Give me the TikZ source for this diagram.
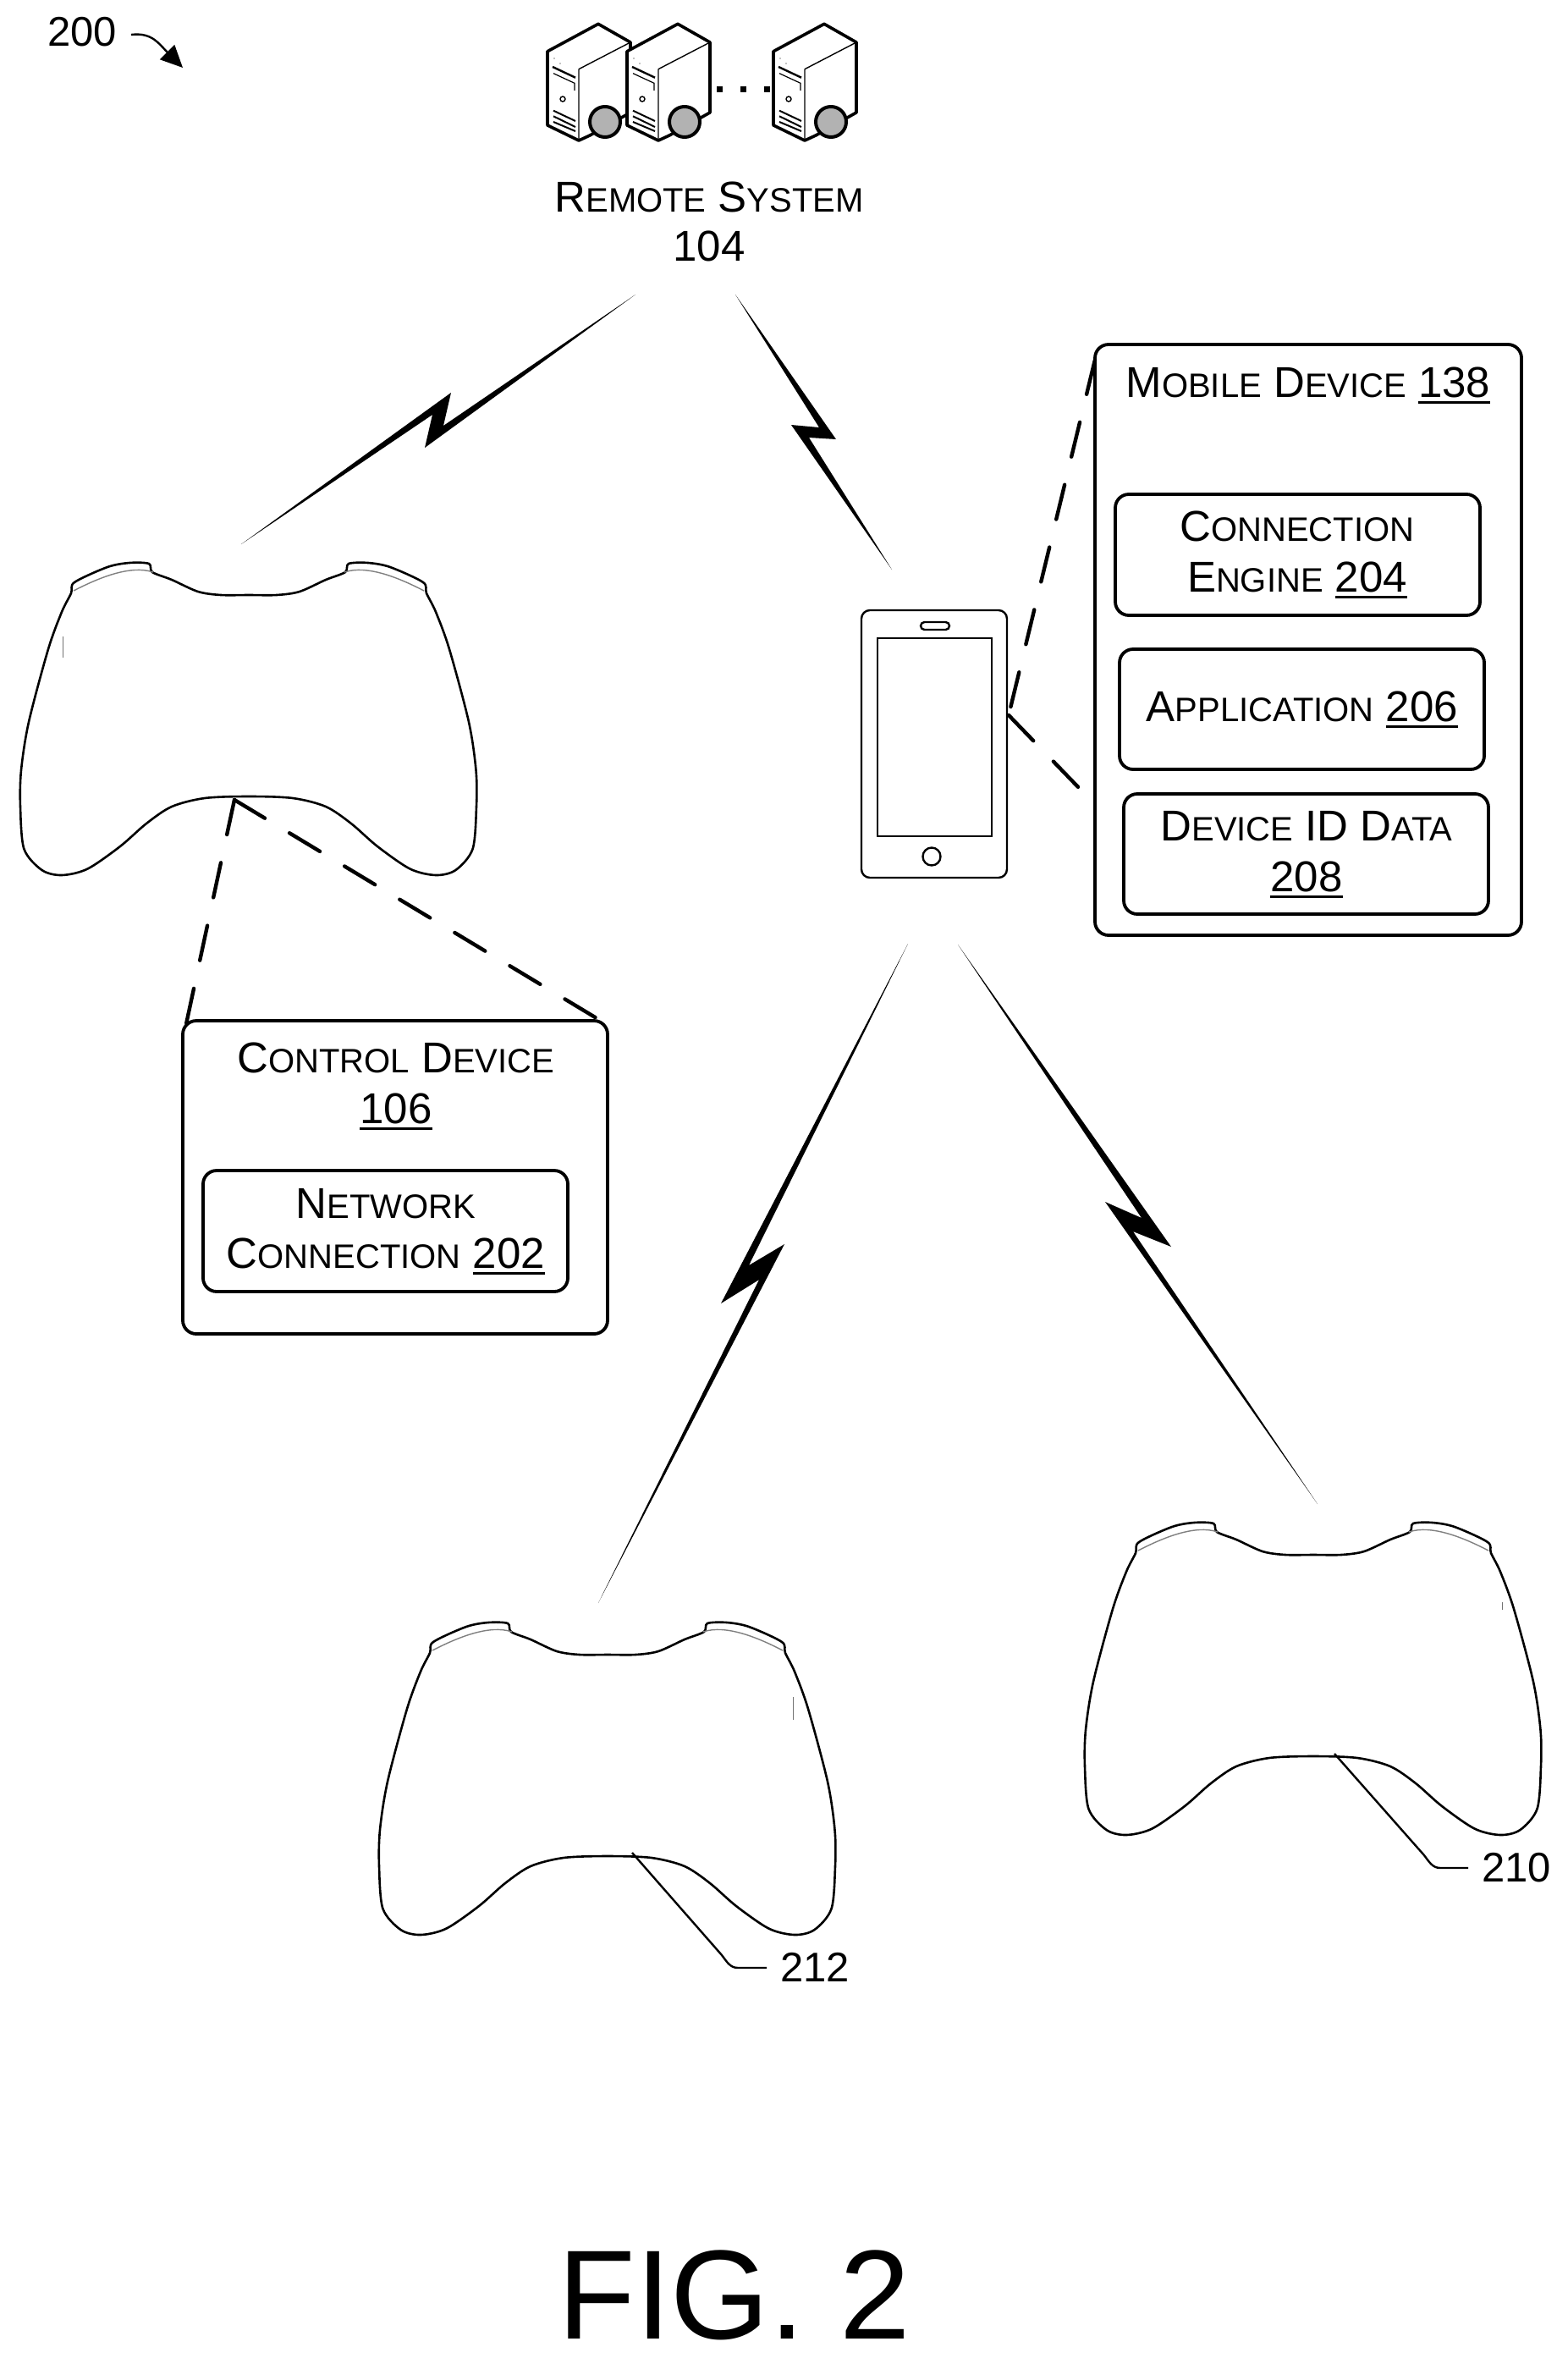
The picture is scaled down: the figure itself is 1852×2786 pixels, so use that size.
\documentclass[tikz,border=0pt]{standalone}
\usepackage{fontspec}
\setmainfont{Liberation Sans}
\usetikzlibrary{arrows.meta}

% first letter large, the rest in small capitals
\newcommand{\smc}[2]{#1{\fontsize{40}{46}\selectfont #2}}
\newcommand{\num}[1]{\setbox0\hbox{#1}\rlap{\rule[-7.5pt]{\wd0}{3pt}}\box0}

\tikzset{
    every node/.style={outer sep=0pt},
    box/.style={draw,line width=3.8pt,rounded corners=16pt,anchor=north west,inner sep=0pt},
    boxtext/.style={font=\fontsize{51}{60}\selectfont,align=center,inner sep=0pt,anchor=base},
    reftext/.style={font=\fontsize{49}{58}\selectfont,inner sep=0pt},
    dashline/.style={line width=4.4pt,line cap=round,dash pattern=on 42pt off 34pt},
    bolt/.style={fill=black},
    leader/.style={line width=2.4pt},
    phoneline/.style={draw,line width=2.4pt},
    pics/controller/.style={code={
        \draw[line width=2.6pt,fill=white] plot[smooth cycle,tension=0.5] coordinates {
            (0,0) (33,0) (60,-4) (91,-18) (114,-27) (118,-37) (141,-38) (167,-33) (206,-15) (210,-2)
            (221,20) (237,64) (260,150) (268.5,207) (269,250) (264.6,300) (244.5,325) (221,331)
            (190.6,323.6) (152,297) (121,270) (91,250) (52,240) (0,238)
            (-52,240) (-91,250) (-121,270) (-152,297) (-190.6,323.6) (-221,331) (-244.5,325) (-265.6,300)
            (-270,250) (-269,207) (-260,150) (-237,64) (-221,20) (-210,-2)
            (-206,-15) (-167,-33) (-141,-38) (-118,-37) (-114,-27) (-91,-18) (-60,-4) (-33,0)};
        \draw[line width=1.4pt,black!50] (-207,-5) .. controls (-178,-20) and (-140,-36) .. (-113,-27);
        \draw[line width=1.4pt,black!50] (207,-5) .. controls (178,-20) and (140,-36) .. (113,-27);
    }},
    pics/server/.style={code={
        \draw[line width=3.6pt,line join=round,fill=white] (0,51.7) -- (60,19.3) -- (98,41) -- (98,124)
            -- (50,151) -- (37,157) -- (0,139) -- cycle;
        \draw[line width=1.4pt] (37,72.7) -- (98,41) (37,72.7) -- (37,157);
        \draw[line width=2.4pt] (6,70) -- (33,82.7);
        \draw[line width=1.2pt] (7,77.7) -- (32,89.3) -- (32,98);
        \draw[line width=1.4pt] (18,108) circle (3);
        \draw[line width=2pt] (7,121.7) -- (33,134) (7,128.3) -- (33,141) (7,135) -- (33,146);
        \fill (8,60) circle (0.7) (15,66) circle (0.7);
        \draw[line width=4pt,fill=black!30] (68,135) circle (18);
    }}
}

\begin{document}
\begin{tikzpicture}[x=1pt,y=-1pt]
    \useasboundingbox (0,0) rectangle (1852,2786);

    % remote system
    \pic at (647,9) {server};
    \pic at (741,9) {server};
    \pic at (914,9) {server};
    \foreach \x in {850,878,906}
        \fill (\x-3.5,102.5) rectangle (\x+3.5,109.5);
    \node[boxtext] (remote) at (838,250) {\smc{R}{EMOTE} \smc{S}{YSTEM}};
    \node[boxtext] (remotenum) at (838,308) {104};

    % figure reference
    \node[reftext,anchor=base west] (figref) at (56,55) {200};
    \coordinate (figa) at (155,41);
    \coordinate (figb) at (216,80);
    \draw[line width=2.4pt,-{Triangle[length=26pt,width=24pt]}] (figa) .. controls (180,38) and (188,52) .. (figb);

    % phone
    \node[phoneline,rounded corners=10pt,minimum width=172pt,minimum height=316pt,anchor=north west] (phone) at (1018,721) {};
    \node[phoneline,minimum width=135pt,minimum height=234pt,anchor=north west] (screen) at (1037,754) {};
    \node[phoneline,rounded corners=4.5pt,minimum width=34pt,minimum height=9pt,inner sep=0pt,anchor=north west] (speaker) at (1088,735) {};
    \node[phoneline,circle,minimum size=21pt,inner sep=0pt] (homekey) at (1101,1012) {};

    % mobile device
    \node[box,minimum width=504pt,minimum height=698pt] (mobile) at (1294,407) {};
    \node[box,minimum width=431pt,minimum height=143pt] (engine) at (1318,584) {};
    \node[box,minimum width=431pt,minimum height=142pt] (application) at (1323,767) {};
    \node[box,minimum width=431pt,minimum height=142pt] (idbox) at (1328,938) {};
    \node[boxtext] (mobiletext) at (1546,469) {\smc{M}{OBILE} \smc{D}{EVICE} \num{138}};
    \node[boxtext] (enginea) at (1533,639) {\smc{C}{ONNECTION}};
    \node[boxtext] (engineb) at (1533,699) {\smc{E}{NGINE} \num{204}};
    \node[boxtext] (applicationtext) at (1539,852) {\smc{A}{PPLICATION} \num{206}};
    \node[boxtext] (ida) at (1544,993) {\smc{D}{EVICE} ID \smc{D}{ATA}};
    \node[boxtext] (idb) at (1544,1053) {\num{208}};

    % control device
    \node[box,minimum width=502pt,minimum height=370pt] (device) at (216,1206) {};
    \node[box,minimum width=431pt,minimum height=143pt] (network) at (240,1383) {};
    \node[boxtext] (devicea) at (468,1267) {\smc{C}{ONTROL} \smc{D}{EVICE}};
    \node[boxtext] (deviceb) at (468,1327) {\num{106}};
    \node[boxtext] (networka) at (456,1439) {\smc{N}{ETWORK}};
    \node[boxtext] (networkb) at (456,1498) {\smc{C}{ONNECTION} \num{202}};

    % controllers
    \pic (padmain) at (294,703) {controller};
    \pic (padright) at (1552,1837) {controller};
    \pic (padleft) at (718,1955) {controller};
    \draw[line width=1pt,black!55] (74,752) -- (74,777);
    \draw[line width=1pt,black!55] (937,2005) -- (937,2032);
    \draw[line width=1pt,black!55] (1775,1893) -- (1775,1902);

    % dashed links
    \coordinate (padpoint) at (277,945);
    \coordinate (phonepoint) at (1192,845);
    \coordinate (devicea end) at (220,1210);
    \coordinate (deviceb end) at (705,1203);
    \coordinate (mobilea end) at (1294,425);
    \coordinate (mobileb end) at (1279,935);
    \draw[dashline] (padpoint) -- (devicea end);
    \draw[dashline] (padpoint) -- (deviceb end);
    \draw[dashline] (mobilea end) -- (phonepoint);
    \draw[dashline] (phonepoint) -- (mobileb end);

    % wireless links
    \coordinate (remotea) at (751,348);
    \coordinate (remoteb) at (869,348);
    \coordinate (pada) at (285,643);
    \coordinate (phonea) at (1054,673);
    \coordinate (phoneb) at (1073,1115);
    \coordinate (phonec) at (1132,1116);
    \coordinate (padb) at (707,1894);
    \coordinate (padc) at (1557,1777);
    \fill[bolt] (remotea) -- (502,529) -- (511,490) -- (pada) -- (533,464) -- (524,503) -- cycle;
    \fill[bolt] (remoteb) -- (988,519) -- (956,517) -- (phonea) -- (935,502) -- (968,505) -- cycle;
    \fill[bolt] (phoneb) -- (885,1495) -- (927,1470) -- (padb) -- (897,1512) -- (852,1540) -- cycle;
    \fill[bolt] (phonec) -- (1384,1473) -- (1339,1455) -- (padc) -- (1306,1420) -- (1349,1439) -- cycle;

    % reference numerals
    \node[reftext,anchor=base west] (lblright) at (1751,2223) {210};
    \node[reftext,anchor=base west] (lblleft) at (922,2341) {212};
    \coordinate (leadera) at (1577,2072);
    \coordinate (leaderb) at (747,2189);
    \coordinate (leaderc) at (1735,2207);
    \coordinate (leaderd) at (906,2325);
    \draw[leader] (leadera) -- (1683,2192) .. controls (1689,2200) and (1693,2207) .. (1702,2207) -- (leaderc);
    \draw[leader] (leaderb) -- (853,2310) .. controls (859,2318) and (863,2325) .. (872,2325) -- (leaderd);

    \node[font=\fontsize{150}{170}\selectfont,inner sep=0pt,anchor=base] (figtitle) at (868,2763) {FIG. 2};
\end{tikzpicture}
\end{document}
